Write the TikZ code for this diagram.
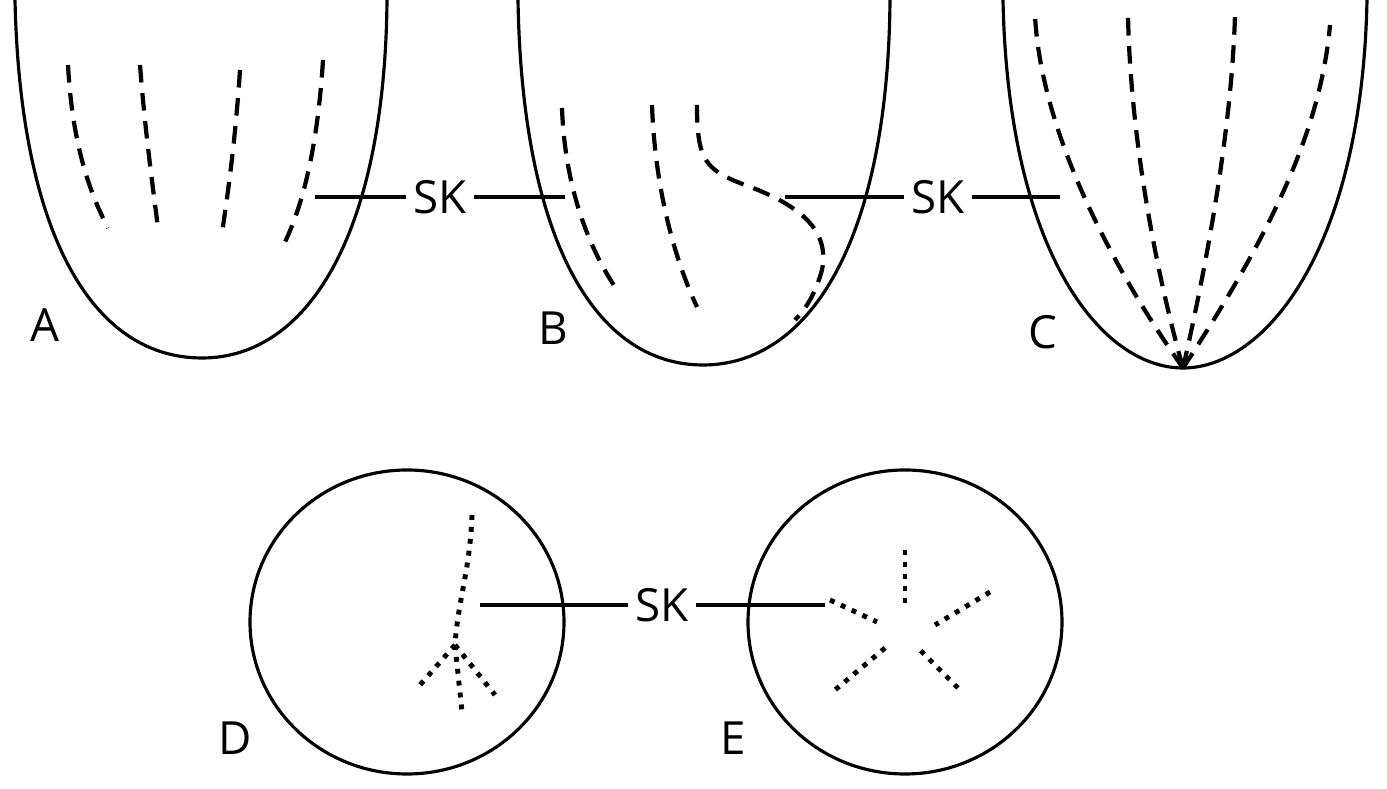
\documentclass[tikz,border=0pt]{standalone}
\usepackage{fontspec}
\setmainfont{Open Sans}
\usetikzlibrary{positioning}
\tikzset{
  lbl/.style={font=\fontsize{13}{15}\selectfont, inner sep=2pt},
  cut/.style={dashed, dash pattern=on 5pt off 3pt, line width=1.2pt},
  dots/.style={dotted, line width=1.4pt},
  wall/.style={line width=0.9pt}
}
\begin{document}
\begin{tikzpicture}[x=0.01cm,y=-0.01cm]
\useasboundingbox (0,0) rectangle (1387,789);
% A
\draw[wall] (15,0) .. controls (20,230) and (90,358) .. (202,358) .. controls (310,358) and (385,230) .. (387,0);
\draw[cut] (68,65) .. controls (72,140) and (88,190) .. (108,228);
\draw[cut] (140,65) .. controls (145,130) and (152,180) .. (158,228);
\draw[cut] (240,70) .. controls (236,130) and (230,180) .. (222,233);
\draw[cut] (323,60) .. controls (318,140) and (305,200) .. (285,242);
% B
\draw[wall] (518,0) .. controls (522,240) and (595,365) .. (703,365) .. controls (810,365) and (888,240) .. (890,0);
\draw[cut] (562,108) .. controls (565,190) and (590,250) .. (617,290);
\draw[cut] (652,105) .. controls (655,190) and (675,260) .. (697,307);
\draw[cut] (697,105) .. controls (697,160) and (705,170) .. (745,185) .. controls (800,205) and (830,230) .. (822,270) .. controls (815,295) and (805,310) .. (795,320);
% C
\draw[wall] (1003,0) .. controls (1008,250) and (1100,368) .. (1183,368) .. controls (1265,368) and (1362,250) .. (1367,0);
\coordinate (cb) at (1183,368);
\draw[cut] (cb) .. controls (1100,250) and (1040,120) .. (1035,15);
\draw[cut] (cb) .. controls (1150,250) and (1130,120) .. (1128,15);
\draw[cut] (cb) .. controls (1210,250) and (1232,120) .. (1235,15);
\draw[cut] (cb) .. controls (1260,250) and (1320,140) .. (1330,25);
% D and E
\draw[wall] (407,622) ellipse [x radius=157, y radius=152];
\draw[wall] (905,622) ellipse [x radius=157, y radius=152];
\coordinate (dk) at (455,645);
\draw[dots] (472,515) .. controls (470,570) and (458,600) .. (dk);
\draw[dots] (dk) -- (420,685);
\draw[dots] (dk) -- (462,712);
\draw[dots] (dk) -- (495,695);
\draw[dots] (905,550) -- (905,605);
\draw[dots] (990,592) -- (935,625);
\draw[dots] (958,688) -- (920,650);
\draw[dots] (885,648) -- (835,690);
\draw[dots] (830,600) -- (877,622);
% labels
\node[lbl] (la) at (45,325) {A};
\node[lbl] (lb) at (553,328) {B};
\node[lbl] (lc) at (1043,332) {C};
\node[lbl] (ld) at (235,738) {D};
\node[lbl] (le) at (733,738) {E};
\node[lbl] (sk1) at (440,197) {SK};
\node[lbl] (sk2) at (938,197) {SK};
\node[lbl] (sk3) at (662,605) {SK};
\coordinate (a1) at (315,197); \coordinate (b1) at (565,197);
\coordinate (a2) at (785,197); \coordinate (b2) at (1060,197);
\coordinate (a3) at (480,605); \coordinate (b3) at (825,605);
\draw[wall] (a1) -- (sk1) -- (b1);
\draw[wall] (a2) -- (sk2) -- (b2);
\draw[wall] (a3) -- (sk3) -- (b3);
\end{tikzpicture}
\end{document}
